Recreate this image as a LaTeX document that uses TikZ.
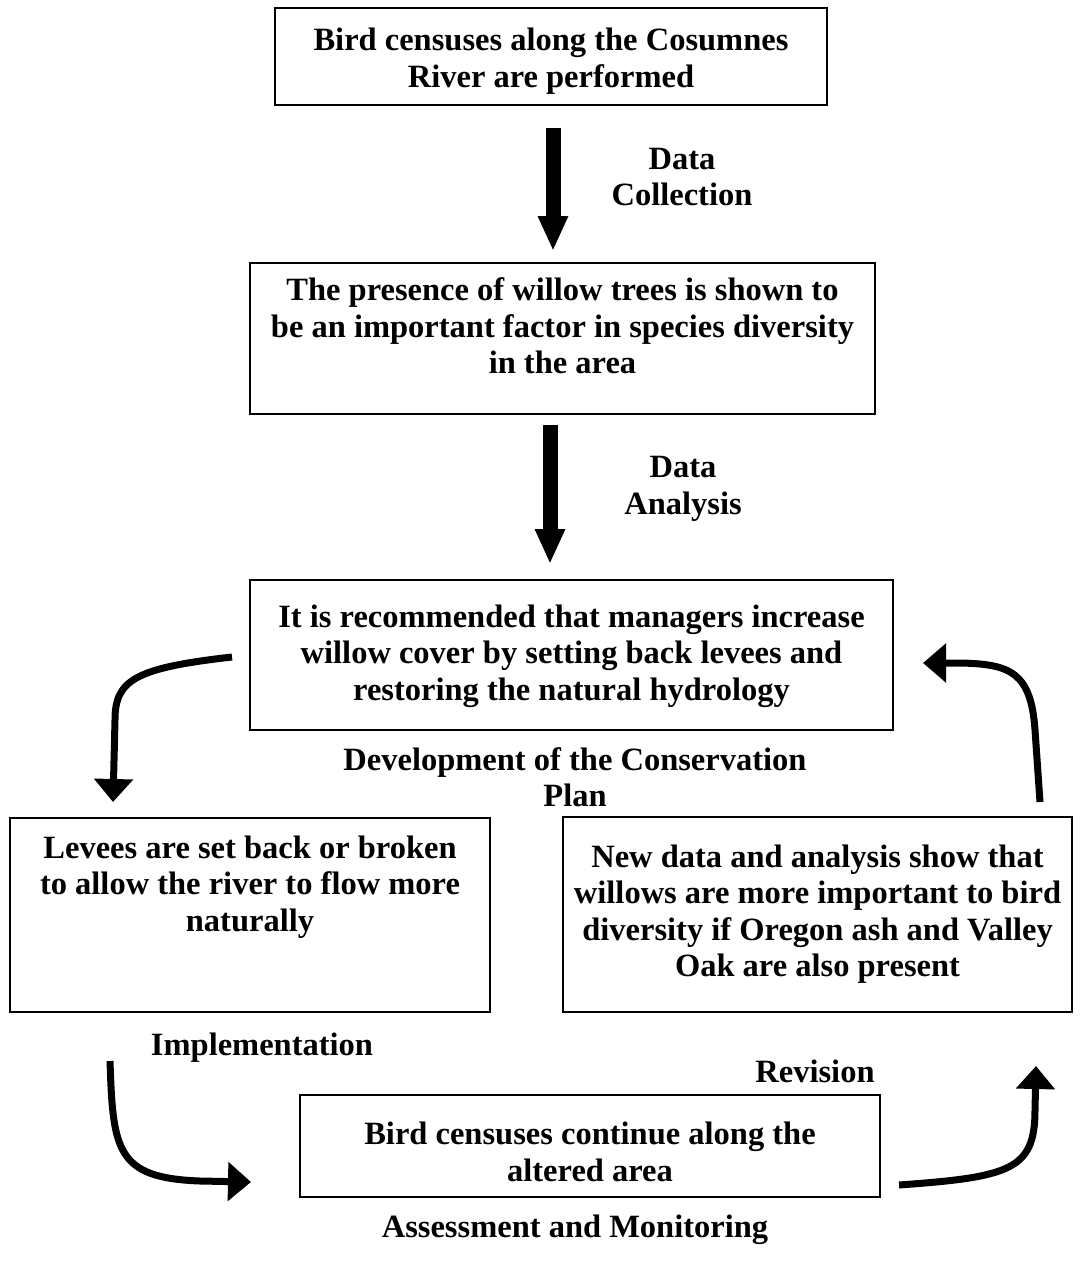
\documentclass[tikz,border=0pt]{standalone}
\usepackage{fontspec}
\setmainfont{Liberation Serif}
\usetikzlibrary{arrows.meta,calc}
\begin{document}
\begin{tikzpicture}[x=1pt,y=-1pt,
  every node/.style={font=\fontsize{32.5}{36.5}\selectfont\bfseries, align=center, inner sep=0pt},
  box/.style={draw, line width=2pt},
  bigarrow/.style={line width=15pt, -{Triangle[width=28pt,length=35pt]}},
  curvearrow/.style={line width=7pt, -{Triangle[width=38pt,length=23pt]}}]
\useasboundingbox[fill=white] (0,0) rectangle (1081,1279);

\node[box, minimum width=552, minimum height=97] (b1) at (551,56.5) {};
\node (t1) at (551,61) {Bird censuses along the Cosumnes\\River are performed};
\node[box, minimum width=625, minimum height=151] (b2) at (562.5,338.5) {};
\node (t2) at (562.5,326) {The presence of willow trees is shown to\\be an important factor in species diversity\\in the area};
\node[box, minimum width=643, minimum height=150] (b3) at (571.5,655) {};
\node (t3) at (571.5,656) {It is recommended that managers increase\\willow cover by setting back levees and\\restoring the natural hydrology};
\node[box, minimum width=480, minimum height=194] (b4) at (250,915) {};
\node (t4) at (250,887) {Levees are set back or broken\\to allow the river to flow more\\naturally};
\node[box, minimum width=509, minimum height=195] (b5) at (817.5,914.5) {};
\node (t5) at (817.5,914) {New data and analysis show that\\willows are more important to bird\\diversity if Oregon ash and Valley\\Oak are also present};
\node[box, minimum width=580, minimum height=102] (b6) at (590,1146) {};
\node (t6) at (590,1152) {Bird censuses continue along the\\altered area};

\node (l1) at (682,177) {Data\\Collection};
\node (l2) at (683,489) {Data\\Analysis};
\node (l3) at (575,777) {Development of the Conservation\\Plan};
\node (l4) at (262,1048) {Implementation};
\node (l5) at (815,1071) {Revision};
\node (l6) at (575,1230) {Assessment and Monitoring};

\draw[bigarrow] ($(b1.south)+(2,22)$) -- ($(b2.north)+(-9.5,-11)$);
\draw[bigarrow] ($(b2.south)+(-12.5,10)$) -- ($(b3.north)+(-21.5,-15)$);

\coordinate (a1) at ($(b3.west)+(-17,2)$);
\coordinate (a1e) at ($(b4.north west)+(104,-15)$);
\draw[curvearrow] (a1) .. controls (135,668) and (115,680) .. (115,720) -- (a1e);

\coordinate (a2) at ($(b5.north east)+(-33,-14)$);
\coordinate (a2e) at ($(b3.east)+(29,8)$);
\draw[curvearrow] (a2) -- (1035,730) .. controls (1031,672) and (1010,664) .. (960,663) -- (a2e);

\coordinate (a3) at ($(b4.south west)+(101,48)$);
\coordinate (a3e) at ($(b6.west)+(-48,36)$);
\draw[curvearrow] (a3) .. controls (113,1150) and (116,1178) .. (200,1181) -- (a3e);

\coordinate (a4) at ($(b6.east)+(18,39)$);
\coordinate (a4e) at ($(b5.south east)+(-37,53)$);
\draw[curvearrow] (a4) .. controls (1010,1177) and (1035,1170) .. (1035,1110) -- (a4e);
\end{tikzpicture}
\end{document}
